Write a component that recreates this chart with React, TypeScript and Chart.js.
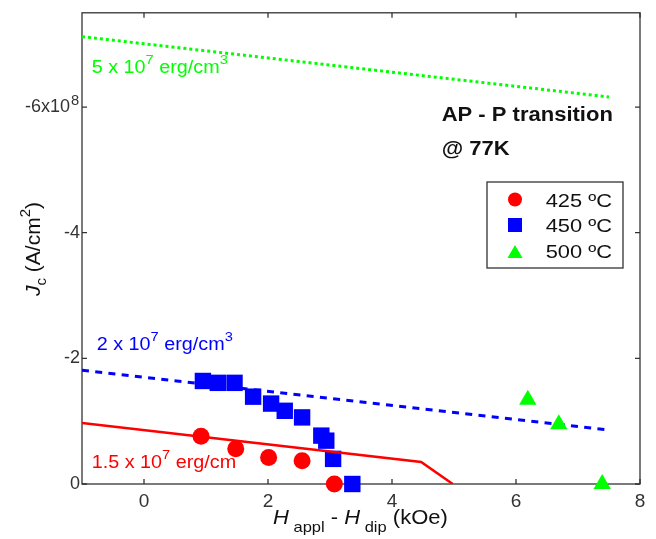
import React, { useEffect, useRef } from 'react';
import { Chart, registerables } from 'chart.js';

Chart.register(...registerables);

const FAMILY = '"Liberation Sans", Arial, Helvetica, sans-serif';

// Axis ticks
const xTicks = [0, 2, 4, 6, 8];
const yTicks = [0, -2e8, -4e8, -6e8];
const yExponentTick = -6e8;
const yExponentText = '8';

// Measured data (H_appl - H_dip in kOe, Jc in A/cm^2)
const s425Label = '425 ºC';
const s425X = [0.92, 1.48, 2.01, 2.55, 3.07];
const s425Y = [-0.76e8, -0.56e8, -0.42e8, -0.37e8, 0];

const s450Label = '450 ºC';
const s450X = [0.95, 1.19, 1.46, 1.76, 2.05, 2.27, 2.55, 2.86, 2.94, 3.05, 3.36];
const s450Y = [-1.64e8, -1.61e8, -1.61e8, -1.39e8, -1.28e8, -1.165e8, -1.06e8, -0.77e8, -0.69e8, -0.4e8, 0];

const s500Label = '500 ºC';
const s500X = [6.19, 6.69, 7.39];
const s500Y = [-1.34e8, -0.95e8, 0];

// Model curves
const m5X = [-1, 7.5];
const m5Y = [-7.12e8, -6.16e8];
const m2X = [-1, 7.5];
const m2Y = [-1.81e8, -0.86e8];
const m15X = [-1, 4.47, 4.98];
const m15Y = [-0.97e8, -0.35e8, 0];

const RED = '#ff0000';
const BLUE = '#0000ff';
const GREEN = '#00ff00';

const pts = (xs: number[], ys: number[]) => xs.map((x, i) => ({ x, y: ys[i] }));

type Part = { t: string; size: number; dy?: number; bold?: boolean; italic?: boolean };

function drawRich(ctx: CanvasRenderingContext2D, parts: Part[], x: number, y: number, color: string, sx = 1.13, rotate = 0) {
  ctx.save();
  ctx.translate(x, y);
  if (rotate) ctx.rotate(rotate);
  ctx.scale(sx, 1);
  ctx.fillStyle = color;
  ctx.textAlign = 'left';
  ctx.textBaseline = 'alphabetic';
  let cx = 0;
  for (const p of parts) {
    ctx.font = `${p.italic ? 'italic ' : ''}${p.bold ? 'bold ' : ''}${p.size}px ${FAMILY}`;
    ctx.fillText(p.t, cx, p.dy || 0);
    cx += ctx.measureText(p.t).width;
  }
  ctx.restore();
}

const decorPlugin = {
  id: 'decor',
  beforeDatasetsDraw(chart: any) {
    const { ctx, chartArea: a, scales } = chart;
    ctx.save();
    ctx.strokeStyle = '#333';
    ctx.lineWidth = 1.3;
    ctx.strokeRect(a.left, a.top, a.right - a.left, a.bottom - a.top);
    ctx.beginPath();
    for (const v of xTicks) {
      const px = scales.x.getPixelForValue(v);
      ctx.moveTo(px, a.bottom);
      ctx.lineTo(px, a.bottom - 5);
      ctx.moveTo(px, a.top);
      ctx.lineTo(px, a.top + 5);
    }
    for (const v of yTicks) {
      const py = scales.y.getPixelForValue(v);
      ctx.moveTo(a.left, py);
      ctx.lineTo(a.left + 5, py);
      ctx.moveTo(a.right, py);
      ctx.lineTo(a.right - 5, py);
    }
    ctx.stroke();
    ctx.restore();

    // exponent of the top y tick label
    const pyExp = scales.y.getPixelForValue(yExponentTick);
    drawRich(ctx, [{ t: yExponentText, size: 14 }], a.left - 11, pyExp - 2, '#333', 1.05);

    // curve annotations
    drawRich(ctx, [
      { t: '5 x 10', size: 17.5 },
      { t: '7', size: 13, dy: -9 },
      { t: ' erg/cm', size: 17.5 },
      { t: '3', size: 13, dy: -9 },
    ], 91.7, 72.7, GREEN);
    drawRich(ctx, [
      { t: '2 x 10', size: 17.5 },
      { t: '7', size: 13, dy: -9 },
      { t: ' erg/cm', size: 17.5 },
      { t: '3', size: 13, dy: -9 },
    ], 96.7, 350, BLUE);
    drawRich(ctx, [
      { t: '1.5 x 10', size: 17.5 },
      { t: '7', size: 13, dy: -9 },
      { t: ' erg/cm', size: 17.5 },
    ], 91.7, 468.3, RED);

    // condition note
    drawRich(ctx, [{ t: 'AP - P transition', size: 20, bold: true }], 441.7, 120.5, '#111', 1.1);
    drawRich(ctx, [{ t: '@ 77K', size: 20, bold: true }], 441.7, 154.5, '#111', 1.1);

    // axis titles
    drawRich(ctx, [
      { t: 'H', size: 20, italic: true },
      { t: ' appl', size: 15, dy: 8 },
      { t: ' - ', size: 20 },
      { t: 'H', size: 20, italic: true },
      { t: ' dip', size: 15, dy: 8 },
      { t: ' (kOe)', size: 20 },
    ], 273, 524, '#111', 1.1);
    drawRich(ctx, [
      { t: 'J', size: 21, italic: true },
      { t: 'c', size: 15, dy: 6 },
      { t: ' (A/cm', size: 21 },
      { t: '2', size: 15, dy: -10 },
      { t: ')', size: 21 },
    ], 40, 296, '#111', 1, -Math.PI / 2);
  },
  afterDatasetsDraw(chart: any) {
    const { ctx } = chart;
    // legend box
    ctx.save();
    ctx.fillStyle = '#fff';
    ctx.fillRect(487, 182, 136, 86);
    ctx.strokeStyle = '#333';
    ctx.lineWidth = 1.3;
    ctx.strokeRect(487, 182, 136, 86);
    const mx = 515;
    ctx.fillStyle = RED;
    ctx.beginPath();
    ctx.arc(mx, 199.5, 7, 0, Math.PI * 2);
    ctx.fill();
    ctx.fillStyle = BLUE;
    ctx.fillRect(mx - 7, 218, 14, 14);
    ctx.fillStyle = GREEN;
    ctx.beginPath();
    ctx.moveTo(mx, 245);
    ctx.lineTo(mx + 7.5, 258);
    ctx.lineTo(mx - 7.5, 258);
    ctx.closePath();
    ctx.fill();
    ctx.restore();
    drawRich(ctx, [{ t: s425Label, size: 19 }], 545.7, 206.5, '#111', 1.15);
    drawRich(ctx, [{ t: s450Label, size: 19 }], 545.7, 232, '#111', 1.15);
    drawRich(ctx, [{ t: s500Label, size: 19 }], 545.7, 258.3, '#111', 1.15);
  },
};

export default function App() {
  const ref = useRef<HTMLCanvasElement | null>(null);

  useEffect(() => {
    if (!ref.current) return;
    const chart = new Chart(ref.current, {
      type: 'scatter',
      data: {
        datasets: [
          {
            label: s425Label,
            data: pts(s425X, s425Y),
            pointStyle: 'circle',
            pointRadius: 8.5,
            backgroundColor: RED,
            borderColor: RED,
            pointBorderWidth: 0,
            showLine: false,
            clip: false,
          },
          {
            label: '1.5 x 10^7 erg/cm^3',
            data: pts(m15X, m15Y),
            showLine: true,
            pointRadius: 0,
            borderColor: RED,
            borderWidth: 2.5,
            backgroundColor: RED,
            tension: 0,
          },
          {
            label: s450Label,
            data: pts(s450X, s450Y),
            pointStyle: 'rect',
            pointRadius: 11.6,
            backgroundColor: BLUE,
            borderColor: BLUE,
            pointBorderWidth: 0,
            showLine: false,
            clip: false,
          },
          {
            label: s500Label,
            data: pts(s500X, s500Y),
            pointStyle: 'triangle',
            pointRadius: 10,
            backgroundColor: GREEN,
            borderColor: GREEN,
            pointBorderWidth: 0,
            showLine: false,
            clip: false,
          },
          {
            label: '2 x 10^7 erg/cm^3',
            data: pts(m2X, m2Y),
            showLine: true,
            pointRadius: 0,
            borderColor: BLUE,
            borderWidth: 3,
            borderDash: [7, 6.3],
            backgroundColor: BLUE,
          },
          {
            label: '5 x 10^7 erg/cm^3',
            data: pts(m5X, m5Y),
            showLine: true,
            pointRadius: 0,
            borderColor: GREEN,
            borderWidth: 3,
            borderDash: [3, 3],
            backgroundColor: GREEN,
          },
        ],
      },
      options: {
        responsive: false,
        animation: false,
        layout: { padding: { top: 8, right: 16, left: 0, bottom: 0 } },
        plugins: {
          legend: { display: false },
          tooltip: { enabled: false },
        },
        scales: {
          x: {
            type: 'linear',
            min: -1,
            max: 8,
            afterBuildTicks: (s: any) => {
              s.ticks = xTicks.map((v) => ({ value: v }));
            },
            afterFit: (s: any) => {
              s.height = 55;
            },
            grid: { display: false, drawTicks: false },
            border: { display: false },
            ticks: {
              color: '#333',
              padding: 6,
              maxRotation: 0,
              font: { size: 19, family: FAMILY },
              callback: (v: any) => String(v),
            },
          },
          y: {
            type: 'linear',
            min: -7.5e8,
            max: 0,
            reverse: true,
            afterBuildTicks: (s: any) => {
              s.ticks = yTicks.map((v) => ({ value: v }));
            },
            afterFit: (s: any) => {
              s.width = 82;
            },
            grid: { display: false, drawTicks: false },
            border: { display: false },
            ticks: {
              color: '#333',
              padding: 2,
              font: { size: 18, family: FAMILY },
              callback: (v: any) => {
                if (v === 0) return '0';
                if (v === yExponentTick) return '-6x10  ';
                return String(v / 1e8);
              },
            },
          },
        },
      },
      plugins: [decorPlugin],
    } as any);
    return () => chart.destroy();
  }, []);

  return (
    <div style={{ position: 'absolute', left: 0, top: 0, width: 656, height: 539, background: '#fff' }}>
      <canvas ref={ref} width={656} height={539} style={{ display: 'block' }} />
    </div>
  );
}
